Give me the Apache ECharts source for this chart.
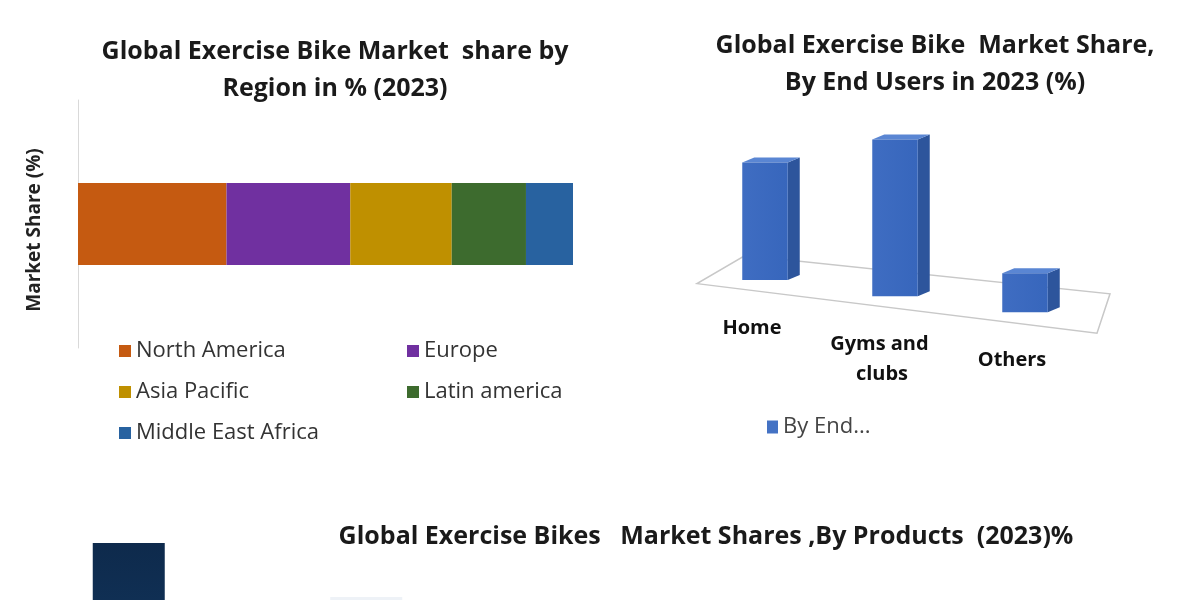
<!DOCTYPE html>
<html>
<head>
<meta charset="utf-8">
<script src="https://cdn.jsdelivr.net/npm/echarts@6/dist/echarts.min.js"></script>
<style>
  html, body { margin: 0; padding: 0; background: #fff; }
  #main { width: 1200px; height: 600px; }
</style>
</head>
<body>
<div id="main"></div>
<script>
// 地区份额 (%)
var regionNames = ['North America', 'Europe', 'Asia Pacific', 'Latin america', 'Middle East Africa'];
var regionValues = [30, 25, 20.5, 15, 9.5];
var regionColors = ['#C55A11', '#7030A0', '#BF9000', '#3D6B2E', '#2862A0'];

// 终端用户份额 (%)
var userNames = ['Home', 'Gyms and clubs', 'Others'];
var userValues = [37.5, 50, 12.5];

// 产品份额 (%)
var productNames = ['Upright Bikes', 'Recumbent Bikes', 'Indoor Cycling Bikes', 'Others'];
var productValues = [45, 36, 11, 8];

var SKEW = 0.124;     // 地面倾斜
var DEPTH_X = 12, DEPTH_Y = -5;

var FONT = 'Open Sans';

var myChart = echarts.init(document.getElementById('main'));

// 立体柱子
var renderBar3d = function(params, api) {
	var cs = params.coordSys;
	var idx = api.value(0);
	var base = api.coord([idx, 0]);
	var top = api.coord([idx, api.value(1)]);
	var bw = api.size([1, 0])[0] * 0.35;
	var sk = SKEW * (base[0] - cs.x);
	var x0 = base[0] - bw / 2, x1 = base[0] + bw / 2;
	var yTop = top[1] + sk, yBot = base[1] + sk;
	return {
		type: 'group',
		children: [
			{
				type: 'polygon',
				shape: { points: [[x1, yTop], [x1 + DEPTH_X, yTop + DEPTH_Y], [x1 + DEPTH_X, yBot + DEPTH_Y], [x1, yBot]] },
				style: { fill: '#2D559C' }
			},
			{
				type: 'polygon',
				shape: { points: [[x0, yTop], [x0 + DEPTH_X, yTop + DEPTH_Y], [x1 + DEPTH_X, yTop + DEPTH_Y], [x1, yTop]] },
				style: { fill: '#5A86D3' }
			},
			{
				type: 'rect',
				shape: { x: x0, y: yTop, width: bw, height: yBot - yTop },
				style: {
					fill: new echarts.graphic.LinearGradient(0, 0, 1, 0, [
						{ offset: 0, color: '#3F6DC2' },
						{ offset: 1, color: '#3766BC' }
					])
				}
			},
			{
				type: 'text',
				x: base[0] - 13,
				y: yBot + 33,
				style: {
					text: userNames[params.dataIndex],
					width: 110,
					overflow: 'break',
					align: 'center',
					verticalAlign: 'top',
					font: 'bold 20px ' + FONT,
					lineHeight: 30,
					fill: '#111'
				}
			}
		]
	};
};

// 地面
var renderFloor = function(params, api) {
	var cs = params.coordSys;
	var baseY = function(x) { return cs.y + cs.height + SKEW * (x - cs.x); };
	var lx = cs.x - 3, rx = cs.x + cs.width + 7;
	var blx = cs.x + 45, brx = cs.x + cs.width + 20;
	return {
		type: 'polygon',
		shape: { points: [[lx, baseY(lx) + 12], [rx, baseY(rx) + 12], [brx, baseY(brx) - 29], [blx, baseY(blx) - 22]] },
		style: { fill: 'none', stroke: '#C8C8C8', lineWidth: 1.5 }
	};
};

var regionSeries = [];
for (var i = 0; i < regionNames.length; i++) {
	regionSeries.push({
		name: regionNames[i],
		type: 'bar',
		stack: 'region',
		xAxisIndex: 0,
		yAxisIndex: 0,
		barWidth: 82,
		itemStyle: { color: regionColors[i] },
		data: [regionValues[i]]
	});
}

var userData = [];
for (var j = 0; j < userValues.length; j++) {
	userData.push([j, userValues[j]]);
}

var option = {
	animation: false,
	textStyle: { fontFamily: FONT },
	title: [
		{
			text: 'Global Exercise Bike Market  share by\nRegion in % (2023)',
			left: 330, top: 28, textAlign: 'center',
			textStyle: { fontSize: 25, fontWeight: 'bold', color: '#1a1a1a', lineHeight: 37, fontFamily: FONT }
		},
		{
			text: 'Global Exercise Bike  Market Share,\nBy End Users in 2023 (%)',
			left: 930, top: 22, textAlign: 'center',
			textStyle: { fontSize: 25, fontWeight: 'bold', color: '#1a1a1a', lineHeight: 37, fontFamily: FONT }
		},
		{
			text: 'Global Exercise Bikes   Market Shares ,By Products  (2023)%',
			left: 701, top: 517, textAlign: 'center',
			textStyle: { fontSize: 25, fontWeight: 'bold', color: '#1a1a1a', lineHeight: 30, fontFamily: FONT }
		}
	],
	legend: [
		{
			data: ['North America', 'Asia Pacific', 'Middle East Africa'],
			orient: 'vertical', left: 114, top: 332, itemGap: 13,
			icon: 'rect', itemWidth: 12, itemHeight: 12,
			textStyle: { fontSize: 22, color: '#333', lineHeight: 28, fontFamily: FONT }
		},
		{
			data: ['Europe', 'Latin america'],
			orient: 'vertical', left: 402, top: 332, itemGap: 13,
			icon: 'rect', itemWidth: 12, itemHeight: 12,
			textStyle: { fontSize: 22, color: '#333', lineHeight: 28, fontFamily: FONT }
		},
		{
			data: ['By End Users'],
			left: 762, top: 411,
			icon: 'rect', itemWidth: 11, itemHeight: 13,
			formatter: function() { return 'By End...'; },
			textStyle: { fontSize: 22, color: '#444', fontFamily: FONT }
		}
	],
	grid: [
		{ left: 78, top: 100, width: 495, height: 248 },
		{ left: 700, top: 84, width: 390, height: 188 },
		{ left: 10, top: 513, width: 950, height: 300, outerBoundsMode: 'none' }
	],
	xAxis: [
		{
			gridIndex: 0, type: 'value', min: 0, max: 100,
			show: false
		},
		{
			gridIndex: 1, type: 'category', data: userNames,
			show: false
		},
		{
			gridIndex: 2, type: 'category', data: productNames,
			show: false
		}
	],
	yAxis: [
		{
			gridIndex: 0, type: 'category', data: ['2023'],
			name: 'Market Share (%)', nameLocation: 'middle', nameRotate: 90, nameGap: 34,
			nameTextStyle: { fontSize: 19, fontWeight: 'bold', color: '#222', fontFamily: FONT, padding: [0, 12, 0, 0] },
			axisLine: { show: true, lineStyle: { color: '#D9D9D9', width: 1 } },
			axisTick: { show: false },
			axisLabel: { show: false }
		},
		{
			gridIndex: 1, type: 'value', min: 0, max: 60,
			show: false
		},
		{
			gridIndex: 2, type: 'value', min: 0, max: 50,
			show: false
		}
	],
	series: regionSeries.concat([
		{
			name: 'floor',
			type: 'custom',
			xAxisIndex: 1,
			yAxisIndex: 1,
			renderItem: renderFloor,
			data: [[0, 0]],
			z: 1,
			silent: true
		},
		{
			name: 'By End Users',
			type: 'custom',
			xAxisIndex: 1,
			yAxisIndex: 1,
			renderItem: renderBar3d,
			itemStyle: { color: '#4472C4' },
			data: userData,
			z: 2
		},
		{
			name: 'Products',
			type: 'bar',
			xAxisIndex: 2,
			yAxisIndex: 2,
			barWidth: 72,
			data: [
				{
					value: productValues[0],
					itemStyle: {
						color: new echarts.graphic.LinearGradient(0, 0, 0, 1, [
							{ offset: 0, color: '#0E2A4C' },
							{ offset: 1, color: '#16426F' }
						])
					}
				},
				{ value: productValues[1], itemStyle: { color: '#EEF2F7' } },
				{ value: productValues[2], itemStyle: { color: '#EEF2F7' } },
				{ value: productValues[3], itemStyle: { color: '#EEF2F7' } }
			]
		}
	])
};

myChart.setOption(option);
</script>
</body>
</html>
